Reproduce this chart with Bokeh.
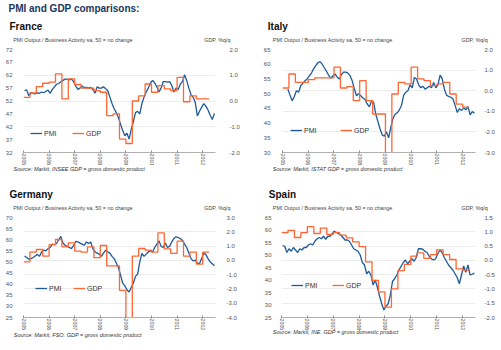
import math
from bokeh.plotting import figure
from bokeh.models import (Range1d, LinearAxis, FixedTicker, PrintfTickFormatter,
                          Legend, LegendItem, Grid, Title)
from bokeh.layouts import row, column
from bokeh.embed import file_html
from bokeh.resources import INLINE

# ---------------- data ----------------
YEARS = [2005, 2006, 2007, 2008, 2009, 2010, 2011, 2012]
X_END = 2012.5

france_pmi_start = (2005, 1)
france_pmi = [
    56.0, 56.3, 54.0, 55.3, 55.0, 54.8, 55.2, 55.0, 55.5, 55.2, 55.8, 56.2,
    55.0, 56.5, 57.5, 58.5, 58.8, 59.5, 60.0, 60.5, 60.5, 60.2, 60.5, 59.5,
    57.8, 56.5, 57.0, 57.8, 57.2, 57.3, 57.0, 57.3, 56.5, 55.0, 57.5, 57.0,
    57.0, 57.5, 56.8, 56.0, 53.5, 51.0, 49.0, 47.5, 45.5, 43.0, 40.5, 38.5,
    39.5, 37.2, 41.0, 44.0, 47.5, 48.0, 47.0, 51.0, 53.5, 55.5, 57.0, 59.0,
    60.0, 59.0, 57.5, 55.5, 57.0, 59.5, 59.5, 59.3, 59.5, 58.0, 55.5, 57.0,
    56.5, 58.5, 59.5, 62.2, 60.0, 57.0, 54.5, 53.5, 51.5, 46.2, 48.0, 49.5,
    51.0, 50.0, 48.5, 46.5, 44.8, 47.2,
]
france_gdp_start = (2005, 1)
france_gdp = [
    0.14, 0.31, 0.56, 0.69, 0.73, 1.05, 0.08, 0.86, 0.64, 0.50, 0.50, 0.40,
    0.34, -0.57, -0.50, -1.48, -1.65, 0.00, 0.20, 0.66, 0.34, 0.60, 0.47, 0.40,
    0.92, -0.03, 0.20, 0.08, 0.08,
]

italy_pmi_start = (2005, 3)
italy_pmi = [
    51.5, 49.5, 47.6, 49.0, 51.0, 50.5, 52.7, 53.5, 54.4, 55.0,
    56.0, 57.0, 58.4, 59.5, 60.5, 60.9, 60.0, 58.8, 57.6, 56.3, 55.3, 56.0,
    56.7, 55.6, 55.0, 56.5, 57.3, 57.3, 57.0, 56.1, 54.4, 51.6, 49.3, 50.0,
    49.3, 48.5, 48.0, 46.5, 45.5, 47.5, 47.0, 43.0, 40.5, 38.0, 36.0, 35.5,
    37.0, 35.0, 38.5, 41.5, 43.0, 43.5, 44.5, 46.0, 49.5, 50.5, 51.0, 53.0,
    52.0, 55.5, 55.0, 53.0, 52.0, 52.5, 51.5, 52.0, 52.5, 52.0, 53.8, 52.0,
    53.0, 56.3, 55.0, 51.5, 49.5, 49.0, 48.8, 48.2, 46.0, 43.6, 44.9, 44.3,
    45.1, 44.5, 45.6, 42.8, 43.9, 43.3,
]
italy_gdp_start = (2005, 1)
italy_gdp = [
    0.13, 0.81, 0.40, 0.40, 0.54, 0.62, 0.62, 0.62, 1.14, 0.13, 0.20, -0.48,
    0.49, -0.48, -1.13, -1.13, -3.50, -0.16, 0.40, 0.33, 1.14, 0.57, 0.49, 0.25,
    0.33, 0.40, -0.16, -0.65, -0.80,
]

germany_pmi_start = (2005, 1)
germany_pmi = [
    52.7, 52.0, 51.2, 51.5, 52.0, 52.7, 53.4, 52.5, 54.5, 55.3, 55.0, 56.0,
    56.5, 58.0, 57.8, 58.3, 60.0, 61.5, 58.5, 57.5, 57.0, 56.5, 56.0, 57.5,
    59.3, 59.0, 58.5, 58.0, 57.5, 59.0, 58.3, 59.0, 56.0, 54.5, 54.0, 53.5,
    52.5, 54.0, 55.3, 54.5, 54.0, 52.5, 51.5, 49.5, 47.5, 44.0, 40.5, 39.2,
    37.5, 36.5, 38.5, 40.5, 43.5, 44.5, 50.0, 53.8, 52.5, 53.5, 54.5, 55.0,
    54.5, 56.5, 58.0, 59.5, 57.0, 56.5, 58.5, 56.5, 57.0, 59.0, 60.5, 61.3,
    61.0, 60.5, 59.7, 58.0, 56.5, 54.0, 51.5, 50.5, 50.8, 49.5, 49.3, 51.5,
    54.0, 53.3, 51.5, 50.0, 49.2, 48.3,
]
germany_gdp_start = (2005, 1)
germany_gdp = [
    -0.11, 0.58, 0.76, 0.30, 1.10, 1.46, 0.95, 1.23, 0.65, 0.58, 0.95, 0.19,
    1.04, -0.39, -0.39, -2.10, -4.30, 0.30, 0.83, 0.72, 0.58, 1.92, 0.80, 0.49,
    1.34, 0.30, 0.58, -0.27, 0.58,
]

spain_pmi_start = (2005, 1)
spain_pmi = [
    53.8, 53.5, 51.0, 52.5, 51.5, 53.0, 52.0, 51.0, 52.5, 52.0, 53.0, 53.0,
    54.0, 54.5, 54.0, 55.5, 56.5, 57.0, 56.5, 57.5, 56.3, 57.5, 57.5, 58.5,
    59.5, 59.0, 58.5, 58.0, 57.0, 56.0, 56.0, 55.5, 54.0, 52.5, 52.0, 51.5,
    50.0, 47.0, 46.0, 42.5, 43.5, 42.0, 38.0, 40.0, 37.0, 33.5, 30.5, 28.0,
    29.5, 30.5, 34.0, 39.5, 40.5, 42.0, 44.0, 45.5, 47.0, 48.0, 46.5, 47.5,
    48.5, 47.5, 49.0, 52.5, 52.5, 52.3, 51.5, 51.0, 49.5, 48.5, 48.0, 48.5,
    50.5, 52.0, 51.0, 49.0, 47.5, 46.0, 45.0, 44.0, 42.5, 41.0, 38.5, 42.0,
    45.6, 43.1, 46.0, 42.0, 42.3, 42.8,
]
spain_gdp_start = (2005, 1)
spain_gdp = [
    0.97, 1.05, 0.80, 0.97, 1.18, 0.94, 1.13, 0.91, 0.97, 0.88, 0.79, 0.65,
    0.48, -0.05, -0.70, -1.10, -1.64, -1.00, -0.36, -0.14, 0.15, 0.26, 0.07, 0.20,
    0.37, 0.20, 0.03, -0.30, -0.34,
]

MAIN_TITLE = "PMI and GDP comparisons:"
SUBTITLE = "PMI Output / Business Activity sa, 50 = no change"
RIGHT_TITLE = "GDP, %q/q"
SOURCES = {
    "France": "Source: Markit, INSEE GDP = gross domestic product",
    "Italy": "Source: Markit, ISTAT GDP = gross domestic product",
    "Germany": "Source: Markit, FSO. GDP = gross domestic product",
    "Spain": "Source: Markit, INE. GDP = gross domestic product",
}

# ---------------- style ----------------
FONT = "Liberation Sans"
PMI_COLOR = "#1d5a9a"
GDP_COLOR = "#ff6633"


def month_x(start, n):
    y0, m0 = start
    return [y0 + (m0 - 1 + i + 0.5) / 12.0 for i in range(n)]


def quarter_x(start, n):
    y0, q0 = start
    return [y0 + (q0 - 1 + i) / 4.0 for i in range(n)]


def title(p, side, text, offset, standoff, size, style="normal", color="#444444",
          align="left", valign="top"):
    p.add_layout(Title(text=text, text_font=FONT, text_font_size=size,
                       text_font_style=style, text_color=color, align=align,
                       vertical_align=valign, offset=offset, standoff=standoff), side)


def make_panel(name, w, h, mb, pmi, pmi_start, gdp, gdp_start,
               left_ticks, right_ticks, right_standoff, left_standoff,
               legend_loc, legend_spacing, tpos):
    bl, br, bt, bb = mb
    p = figure(width=w, height=h, output_backend="svg", toolbar_location=None,
               x_range=Range1d(YEARS[0], X_END),
               y_range=Range1d(left_ticks[0], left_ticks[-1]),
               min_border_left=bl, min_border_right=br,
               min_border_top=bt, min_border_bottom=bb)
    p.extra_y_ranges = {"gdp": Range1d(right_ticks[0], right_ticks[-1])}
    p.outline_line_color = None
    p.xgrid.visible = False
    p.ygrid.visible = False
    p.add_layout(Grid(dimension=1, ticker=FixedTicker(ticks=right_ticks), y_range_name="gdp",
                      grid_line_color="#ececec", grid_line_width=1))

    xs = month_x(pmi_start, len(pmi))
    r_pmi = p.line(xs, pmi, line_color=PMI_COLOR, line_width=1.3)
    qx = quarter_x(gdp_start, len(gdp))
    qx = qx + [qx[-1] + 0.25]
    qy = list(gdp) + [gdp[-1]]
    r_gdp = p.step(qx, qy, mode="after", line_color=GDP_COLOR, line_width=1.3,
                   y_range_name="gdp")

    la = p.left[0]
    la.ticker = FixedTicker(ticks=left_ticks)
    la.formatter = PrintfTickFormatter(format="%d")
    la.axis_line_color = None
    la.major_tick_line_color = None
    la.minor_tick_line_color = None
    la.major_label_standoff = left_standoff
    la.major_label_text_font = FONT
    la.major_label_text_font_size = "6px"
    la.major_label_text_color = "#555555"

    ra = LinearAxis(y_range_name="gdp", ticker=FixedTicker(ticks=right_ticks),
                    formatter=PrintfTickFormatter(format="%.1f"))
    ra.axis_line_color = None
    ra.major_tick_line_color = None
    ra.minor_tick_line_color = None
    ra.major_label_standoff = right_standoff
    ra.major_label_text_font = FONT
    ra.major_label_text_font_size = "6px"
    ra.major_label_text_color = "#555555"
    p.add_layout(ra, "right")

    xa = p.below[0]
    xa.ticker = FixedTicker(ticks=YEARS)
    xa.formatter = PrintfTickFormatter(format="%d")
    xa.axis_line_color = "#b0b0b0"
    xa.major_tick_line_color = "#909090"
    xa.major_tick_in = 2
    xa.major_tick_out = 1
    xa.minor_tick_line_color = None
    xa.major_label_orientation = "vertical"
    xa.major_label_standoff = 0
    xa.major_label_text_font = FONT
    xa.major_label_text_font_size = "5.3px"
    xa.major_label_text_color = "#555555"

    legend = Legend(items=[LegendItem(label="PMI", renderers=[r_pmi]),
                           LegendItem(label="GDP", renderers=[r_gdp])],
                    orientation="horizontal", location=legend_loc,
                    spacing=legend_spacing, padding=0, margin=0,
                    glyph_width=12, glyph_height=8, label_standoff=2,
                    label_width=14, label_height=8,
                    label_text_font=FONT, label_text_font_size="7px",
                    label_text_color="#333333",
                    border_line_color=None, background_fill_alpha=0)
    p.add_layout(legend, "center")

    (c_off, c_st), (s_off, s_st), (r_off, r_st), (src_off, src_st) = tpos
    title(p, "above", SUBTITLE, s_off, s_st, "5.4px")
    title(p, "above", RIGHT_TITLE, r_off, r_st, "5.4px", align="right")
    title(p, "above", name, c_off, c_st, "10px", "bold", "#111111")
    title(p, "below", SOURCES[name], src_off, src_st, "5.5px", "italic", "#333333",
          valign="top")
    return p


f1 = make_panel("France", 250, 175, (23, 35, 49, 23), france_pmi, france_pmi_start,
                france_gdp, france_gdp_start, list(range(32, 73, 5)), [-2, -1, 0, 1, 2],
                8, 5, (7, 15), 14,
                ((-14, -57.6), (-10.3, -25.4), (-15, -25.4), (-10, -5.6)))
title(f1, "above", MAIN_TITLE, -15, -94, "10px", "bold", "#1b365d")

f2 = make_panel("Italy", 251, 175, (32, 26, 49, 23), italy_pmi, italy_pmi_start,
                italy_gdp, italy_gdp_start, list(range(30, 66, 5)), [-3, -2, -1, 0, 1, 2],
                3, 6, (8, 18), 22,
                ((-14.7, -57.6), (-9.7, -25.4), (-12.3, -25.4), (-9.7, -5.6)))
f3 = make_panel("Germany", 250, 175, (23, 35, 42, 33), germany_pmi, germany_pmi_start,
                germany_gdp, germany_gdp_start, list(range(25, 71, 5)),
                [-4, -3, -2, -1, 0, 1, 2, 3], 5, 5, (12, 25), 10,
                ((-14, -57), (-10.3, -25.4), (-15, -25.4), (-9.7, -2.4)))
f4 = make_panel("Spain", 251, 175, (31, 26, 42, 30), spain_pmi, spain_pmi_start,
                spain_gdp, spain_gdp_start, list(range(25, 66, 5)),
                [-2.0, -1.5, -1.0, -0.5, 0.0, 0.5, 1.0, 1.5], 3, 4, (10, 28), 13,
                ((-12.7, -57), (-8.7, -25.4), (-12.3, -25.4), (-8.7, -8.4)))

layout = column(row(f1, f2), row(f3, f4))
open("out.html", "w").write(file_html(layout, INLINE))
